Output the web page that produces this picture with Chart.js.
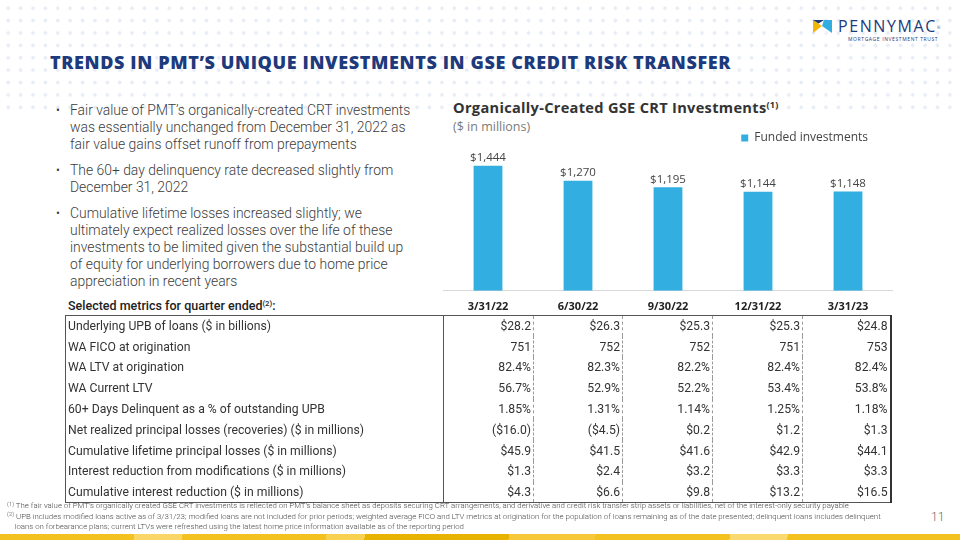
<!DOCTYPE html>
<html>
<head>
<meta charset="utf-8">
<script src="https://cdn.jsdelivr.net/npm/chart.js@4.4.0/dist/chart.umd.min.js"></script>
<style>
    html, body { margin: 0; padding: 0; }
    body { width: 960px; height: 540px; position: relative; overflow: hidden; background: #fff; font-family: Roboto, "Noto Sans", sans-serif; color: #3a3a3a; }
    .dots { position: absolute; left: 0; top: 2px; width: 960px; height: 114px;
        background-image: radial-gradient(circle, #e7ecf5 0 1.8px, transparent 2.1px);
        background-size: 12.4px 12.4px; background-position: 2px 0; }
    .title { position: absolute; left: 50px; top: 50px; font: 800 18px "Open Sans", sans-serif; color: #1c3a7c; letter-spacing: 0.62px; white-space: nowrap; }
    .logo-icon { position: absolute; left: 812px; top: 18px; }
    .logo-name { position: absolute; left: 838px; top: 16px; font: 400 16px "Open Sans", sans-serif; color: #1c3a7c; letter-spacing: 1.6px; line-height: 20px; white-space: nowrap; }
    .logo-name sup { font-size: 4px; position: relative; top: -3px; vertical-align: 0; letter-spacing: 0; }
    .logo-sub { position: absolute; left: 848px; top: 36px; font: 400 5px "Open Sans", sans-serif; color: #1c3a7c; letter-spacing: 0.6px; line-height: 6px; white-space: nowrap; }
    .bullets { position: absolute; left: 56px; top: 102px; margin: 0; padding: 0; list-style: none; font: 300 13.9px Roboto, sans-serif; line-height: 17px; color: #3c3c3c; white-space: nowrap; }
    .bullets li { position: relative; padding-left: 14px; margin-bottom: 9px; }
    .bullets li::before { content: "•"; position: absolute; left: 0; top: 0; font-size: 12px; }
    .ctitle { position: absolute; left: 453px; top: 97px; font: 700 14.6px "Open Sans", sans-serif; color: #333; letter-spacing: 0.3px; white-space: nowrap; }
    .ctitle sup, .thead sup { font-size: 0.62em; vertical-align: 0; position: relative; top: -0.55em; }
    .csub { position: absolute; left: 453px; top: 118px; font: 400 12.5px "Open Sans", sans-serif; color: #7b7b7b; }
    .chart-wrap { position: absolute; left: 443px; top: 107px; width: 450px; height: 215px; }
    .thead { position: absolute; left: 68px; top: 298px; font: 500 12.5px Roboto, sans-serif; color: #222; white-space: nowrap; }
    table.metrics { position: absolute; left: 65px; top: 315px; border-collapse: collapse; font: 400 12.2px Roboto, sans-serif; color: #333; table-layout: fixed; }
    table.metrics td { height: 20.8px; padding: 0 2px 0 2px; box-sizing: border-box; white-space: nowrap; line-height: 20px; }
    table.metrics td.v { text-align: right; border-right: 1px dashed #9a9a9a; }
    table.metrics td.l { border-right: 1px solid #555; border-left: 1px solid #555; }
    table.metrics tr:first-child td { border-top: 1px solid #555; }
    table.metrics tr:last-child td { border-bottom: 1px solid #555; }
    table.metrics td.v:last-child { border-right: 2px solid #333; }
    .notes { position: absolute; left: 7px; top: 501px; font: 300 7.85px Roboto, sans-serif; line-height: 9.6px; color: #4a4a4a; white-space: nowrap; }
    .notes sup { font-size: 0.75em; vertical-align: 0; position: relative; top: -0.4em; }
    .page { position: absolute; left: 931px; top: 510px; font: 300 12px Roboto, sans-serif; color: #666; }
    .strip { position: absolute; left: 0; top: 534px; width: 960px; height: 6px;
        background: linear-gradient(100deg, #f4c21e 0 14%, #f9d666 14% 19%, #f4c21e 19% 34%, #f8d150 34% 38%, #e8b200 38% 53%, #f6c93a 53% 62%, #f4c21e 62% 76%, #fad96e 76% 82%, #f4c21e 82% 100%); }
</style>
</head>
<body>
<div class="dots"></div>
<div class="title">TRENDS IN PMT’S UNIQUE INVESTMENTS IN GSE CREDIT RISK TRANSFER</div>

<svg class="logo-icon" width="22" height="16" viewBox="0 0 22 16">
    <polygon points="1,2 10,8 1,15" fill="#f2b705"/>
    <polygon points="1,2 12,2 6.5,5.5" fill="#1c3a7c"/>
    <polygon points="12,2 20,2 20,15 10,8" fill="#33aee0"/>
    <polygon points="6,15 10,11 14,15" fill="#fff"/>
</svg>
<div class="logo-name">PENNYMAC<sup>®</sup></div>
<div class="logo-sub">MORTGAGE INVESTMENT TRUST</div>

<ul class="bullets">
    <li>Fair value of PMT’s organically-created CRT investments<br>was essentially unchanged from December 31, 2022 as<br>fair value gains offset runoff from prepayments</li>
    <li>The 60+ day delinquency rate decreased slightly from<br>December 31, 2022</li>
    <li>Cumulative lifetime losses increased slightly; we<br>ultimately expect realized losses over the life of these<br>investments to be limited given the substantial build up<br>of equity for underlying borrowers due to home price<br>appreciation in recent years</li>
</ul>

<div class="ctitle">Organically-Created GSE CRT Investments<sup>(1)</sup></div>
<div class="csub">($ in millions)</div>
<div class="chart-wrap"><canvas id="crtChart"></canvas></div>

<div class="thead">Selected metrics for quarter ended<sup>(2)</sup>:</div>
<table class="metrics" id="metrics"></table>

<div class="notes">
    <sup>(1)</sup> The fair value of PMT’s organically created GSE CRT investments is reflected on PMT’s balance sheet as deposits securing CRT arrangements, and derivative and credit risk transfer strip assets or liabilities, net of the interest-only security payable<br>
    <sup>(2)</sup> UPB includes modified loans active as of 3/31/23; modified loans are not included for prior periods; weighted average FICO and LTV metrics at origination for the population of loans remaining as of the date presented; delinquent loans includes delinquent<br>
    &nbsp;&nbsp;&nbsp;&nbsp;loans on forbearance plans; current LTVs were refreshed using the latest home price information available as of the reporting period
</div>
<div class="page">11</div>
<div class="strip"></div>

<script>
// Quarter ends shared by the bar chart and the metrics table.
const quarters = ['3/31/22', '6/30/22', '9/30/22', '12/31/22', '3/31/23'];
// Funded investments, $ in millions.
const fundedInvestments = [1444, 1270, 1195, 1144, 1148];

// Table rows, as printed on the slide.
const metricLabels = [
    'Underlying UPB of loans ($ in billions)',
    'WA FICO at origination',
    'WA LTV at origination',
    'WA Current LTV',
    '60+ Days Delinquent as a % of outstanding UPB',
    'Net realized principal losses (recoveries) ($ in millions)',
    'Cumulative lifetime principal losses ($ in millions)',
    'Interest reduction from modifications ($ in millions)',
    'Cumulative interest reduction ($ in millions)',
];
const upb = ['$28.2', '$26.3', '$25.3', '$25.3', '$24.8'];
const fico = ['751', '752', '752', '751', '753'];
const ltvOrig = ['82.4%', '82.3%', '82.2%', '82.4%', '82.4%'];
const ltvCurrent = ['56.7%', '52.9%', '52.2%', '53.4%', '53.8%'];
const delinquent = ['1.85%', '1.31%', '1.14%', '1.25%', '1.18%'];
const netLosses = ['($16.0)', '($4.5)', '$0.2', '$1.2', '$1.3'];
const cumLosses = ['$45.9', '$41.5', '$41.6', '$42.9', '$44.1'];
const interestReduction = ['$1.3', '$2.4', '$3.2', '$3.3', '$3.3'];
const cumInterestReduction = ['$4.3', '$6.6', '$9.8', '$13.2', '$16.5'];

const metricRows = [upb, fico, ltvOrig, ltvCurrent, delinquent, netLosses, cumLosses, interestReduction, cumInterestReduction];
const colWidths = [378, 90, 89, 90, 90, 88];

function buildTable() {
    const table = document.getElementById('metrics');
    metricRows.forEach((vals, r) => {
        const tr = document.createElement('tr');
        const l = document.createElement('td');
        l.className = 'l';
        l.style.width = colWidths[0] + 'px';
        l.textContent = metricLabels[r];
        tr.appendChild(l);
        vals.forEach((v, i) => {
            const td = document.createElement('td');
            td.className = 'v';
            td.style.width = colWidths[i + 1] + 'px';
            td.textContent = v;
            tr.appendChild(td);
        });
        table.appendChild(tr);
    });
}

// "$1,444" style labels above each bar.
const valueLabels = {
    id: 'valueLabels',
    afterDatasetsDraw(chart) {
        const ctx = chart.ctx;
        const meta = chart.getDatasetMeta(0);
        ctx.save();
        ctx.font = '400 11.5px "Open Sans", sans-serif';
        ctx.fillStyle = '#444';
        ctx.textAlign = 'center';
        ctx.textBaseline = 'middle';
        meta.data.forEach((bar, i) => {
            ctx.fillText('$' + fundedInvestments[i].toLocaleString('en-US'), bar.x, bar.y - 8);
        });
        ctx.restore();
    },
};

function buildChart() {
    new Chart(document.getElementById('crtChart'), {
        type: 'bar',
        data: {
            labels: quarters,
            datasets: [{
                label: 'Funded investments',
                data: fundedInvestments,
                backgroundColor: '#32aee0',
                borderWidth: 0,
                barPercentage: 0.32,
                categoryPercentage: 1,
            }],
        },
        options: {
            responsive: true,
            maintainAspectRatio: false,
            animation: false,
            layout: { padding: 0 },
            plugins: {
                legend: {
                    position: 'top',
                    align: 'end',
                    labels: { boxWidth: 7, boxHeight: 7, padding: 25, color: '#444', font: { family: '"Open Sans", sans-serif', size: 12 } },
                },
                tooltip: { enabled: false },
            },
            scales: {
                x: {
                    grid: { display: false, drawTicks: false },
                    border: { display: true, color: '#d9d9d9', width: 1 },
                    ticks: { padding: 9, color: '#222', font: { family: '"Open Sans", sans-serif', size: 11, weight: 'bold' } },
                },
                y: { display: false, min: 0, max: 1580 },
            },
        },
        plugins: [valueLabels],
    });
}

buildTable();
buildChart();
</script>
</body>
</html>
